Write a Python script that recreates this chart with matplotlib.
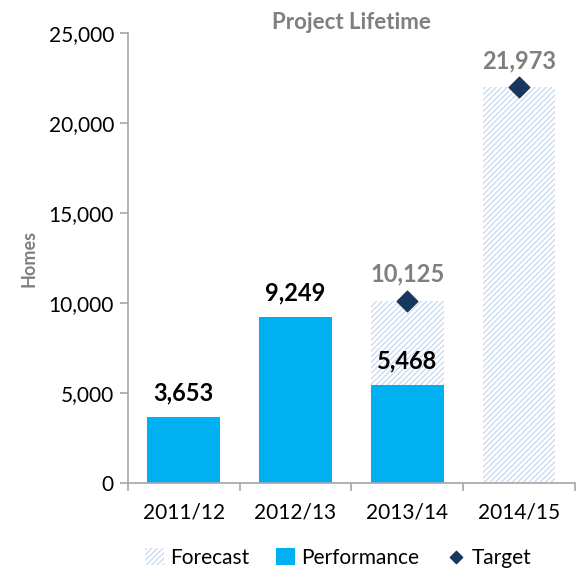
import matplotlib.pyplot as plt
from matplotlib.ticker import FuncFormatter, FixedLocator
import numpy as np

plt.rcParams['font.family'] = ['Lato', 'DejaVu Sans']
plt.rcParams['hatch.linewidth'] = 0.9

years = ["2011/12", "2012/13", "2013/14", "2014/15"]
performance = [3653, 9249, 5468, 0]
forecast = [0, 0, 10125, 21973]
target = [None, None, 10125, 21973]

cyan = "#00B0F0"
hatch_col = "#C6D9F1"
navy = "#17375E"
grey = "#7F7F7F"

fig = plt.figure(figsize=(5.76, 5.74), dpi=100)
ax = fig.add_axes([0.222, 0.158, 0.776, 0.785])

x = np.arange(len(years))
w = 0.65
b_fc = ax.bar(x, forecast, width=w, facecolor="white", edgecolor=hatch_col, hatch="//////",
              linewidth=0, label="Forecast", zorder=1)
b_pf = ax.bar(x, performance, width=w, color=cyan, linewidth=0, label="Performance", zorder=2)

tx = [i for i, t in enumerate(target) if t is not None]
ty = [t for t in target if t is not None]
sc = ax.scatter(tx, ty, marker="D", s=110, color=navy, zorder=3, label="Target")

for i, v in enumerate(performance):
    if v > 0:
        ax.text(i, v + 700, "{:,}".format(v), ha="center", va="bottom",
                fontsize=17, fontweight="bold", color="black")
for i, v in zip(tx, ty):
    ax.text(i, v + 850, "{:,}".format(v), ha="center", va="bottom",
            fontsize=17, fontweight="bold", color=grey)

ax.set_xlim(-0.5, 3.5)
ax.set_ylim(0, 25000)
ax.set_yticks(np.arange(0, 25001, 5000))
ax.yaxis.set_major_formatter(FuncFormatter(lambda v, p: "{:,}".format(int(v))))
ax.set_xticks(x)
ax.set_xticklabels(years)
ax.xaxis.set_minor_locator(FixedLocator(np.arange(-0.5, 3.6, 1.0)))
ax.tick_params(axis="x", which="major", length=0, pad=14, labelsize=15)
ax.tick_params(axis="x", which="minor", length=6, width=1.2, color="#A6A6A6", direction="out")
ax.tick_params(axis="y", length=6, width=1.2, color="#A6A6A6", labelsize=15, pad=4)

for s in ["top", "right"]:
    ax.spines[s].set_visible(False)
for s in ["left", "bottom"]:
    ax.spines[s].set_color("#A6A6A6")
    ax.spines[s].set_linewidth(1.2)

ax.set_ylabel("Homes", fontsize=13, fontweight="bold", color=grey, labelpad=8)
ax.set_title("Project Lifetime", fontsize=16, fontweight="bold", color=grey, pad=0)

fig.legend([b_fc, b_pf, sc], ["Forecast", "Performance", "Target"],
           loc="lower center", bbox_to_anchor=(0.587, 0.0), ncol=3, frameon=False,
           fontsize=15, handlelength=0.9, handleheight=0.9, handletextpad=0.3,
           columnspacing=1.3, markerscale=0.6, borderaxespad=0.1, borderpad=0.2)

fig.savefig("out.png", dpi=100)
